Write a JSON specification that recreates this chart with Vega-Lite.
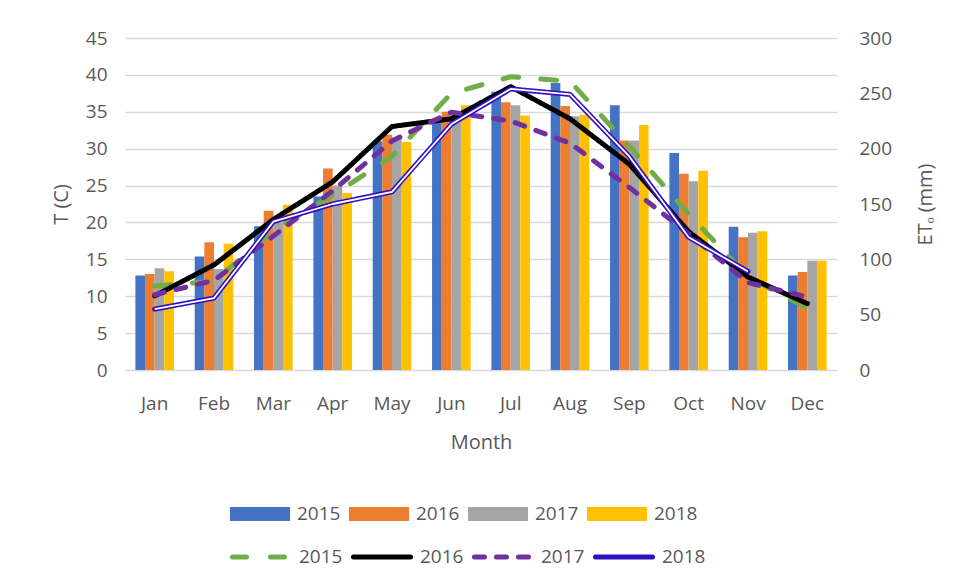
{
  "$schema": "https://vega.github.io/schema/vega-lite/v6.json",
  "width": 712,
  "height": 332,
  "autosize": "none",
  "padding": {"left": 125, "top": 38, "right": 120, "bottom": 216},
  "background": "white",
  "config": {
    "font": "Open Sans",
    "view": {"stroke": null},
    "axis": {"labelColor": "#595959", "titleColor": "#595959", "labelFontSize": 19, "titleFontSize": 20, "titleFontWeight": "normal", "domain": false, "ticks": false},
    "legend": {"labelColor": "#595959", "labelFontSize": 19, "labelOffset": 7, "columnPadding": 8, "orient": "none", "direction": "horizontal", "title": null}
  },
  "data": {
    "values": [
      {"Month": "Jan", "Year": "2015", "T": 12.8, "ETo": 76},
      {"Month": "Jan", "Year": "2016", "T": 13.0, "ETo": 67},
      {"Month": "Jan", "Year": "2017", "T": 13.8, "ETo": 68},
      {"Month": "Jan", "Year": "2018", "T": 13.4, "ETo": 55},
      {"Month": "Feb", "Year": "2015", "T": 15.4, "ETo": 80},
      {"Month": "Feb", "Year": "2016", "T": 17.3, "ETo": 95},
      {"Month": "Feb", "Year": "2017", "T": 13.7, "ETo": 81},
      {"Month": "Feb", "Year": "2018", "T": 17.1, "ETo": 65},
      {"Month": "Mar", "Year": "2015", "T": 19.5, "ETo": 126},
      {"Month": "Mar", "Year": "2016", "T": 21.6, "ETo": 136},
      {"Month": "Mar", "Year": "2017", "T": 20.0, "ETo": 121},
      {"Month": "Mar", "Year": "2018", "T": 22.4, "ETo": 134},
      {"Month": "Apr", "Year": "2015", "T": 23.5, "ETo": 158},
      {"Month": "Apr", "Year": "2016", "T": 27.3, "ETo": 170},
      {"Month": "Apr", "Year": "2017", "T": 25.0, "ETo": 162},
      {"Month": "Apr", "Year": "2018", "T": 24.0, "ETo": 150},
      {"Month": "May", "Year": "2015", "T": 31.0, "ETo": 193},
      {"Month": "May", "Year": "2016", "T": 31.9, "ETo": 220},
      {"Month": "May", "Year": "2017", "T": 31.5, "ETo": 207},
      {"Month": "May", "Year": "2018", "T": 30.9, "ETo": 161},
      {"Month": "Jun", "Year": "2015", "T": 34.0, "ETo": 250},
      {"Month": "Jun", "Year": "2016", "T": 35.0, "ETo": 227},
      {"Month": "Jun", "Year": "2017", "T": 35.0, "ETo": 233},
      {"Month": "Jun", "Year": "2018", "T": 35.9, "ETo": 222},
      {"Month": "Jul", "Year": "2015", "T": 37.7, "ETo": 265},
      {"Month": "Jul", "Year": "2016", "T": 36.3, "ETo": 256},
      {"Month": "Jul", "Year": "2017", "T": 35.9, "ETo": 225},
      {"Month": "Jul", "Year": "2018", "T": 34.5, "ETo": 254},
      {"Month": "Aug", "Year": "2015", "T": 38.9, "ETo": 261},
      {"Month": "Aug", "Year": "2016", "T": 35.8, "ETo": 227},
      {"Month": "Aug", "Year": "2017", "T": 34.4, "ETo": 205},
      {"Month": "Aug", "Year": "2018", "T": 34.6, "ETo": 249},
      {"Month": "Sep", "Year": "2015", "T": 35.9, "ETo": 202},
      {"Month": "Sep", "Year": "2016", "T": 31.1, "ETo": 186},
      {"Month": "Sep", "Year": "2017", "T": 31.1, "ETo": 165},
      {"Month": "Sep", "Year": "2018", "T": 33.2, "ETo": 193},
      {"Month": "Oct", "Year": "2015", "T": 29.4, "ETo": 141},
      {"Month": "Oct", "Year": "2016", "T": 26.6, "ETo": 125},
      {"Month": "Oct", "Year": "2017", "T": 25.6, "ETo": 123},
      {"Month": "Oct", "Year": "2018", "T": 27.0, "ETo": 120},
      {"Month": "Nov", "Year": "2015", "T": 19.4, "ETo": 84},
      {"Month": "Nov", "Year": "2016", "T": 18.0, "ETo": 84},
      {"Month": "Nov", "Year": "2017", "T": 18.6, "ETo": 79},
      {"Month": "Nov", "Year": "2018", "T": 18.8, "ETo": 89},
      {"Month": "Dec", "Year": "2015", "T": 12.8, "ETo": 56},
      {"Month": "Dec", "Year": "2016", "T": 13.3, "ETo": 60},
      {"Month": "Dec", "Year": "2017", "T": 14.8, "ETo": 66},
      {"Month": "Dec", "Year": "2018", "T": 14.8, "ETo": null}
    ]
  },
  "layer": [
    {
      "mark": {"type": "bar"},
      "encoding": {
        "x": {"field": "Month", "type": "ordinal", "sort": ["Jan", "Feb", "Mar", "Apr", "May", "Jun", "Jul", "Aug", "Sep", "Oct", "Nov", "Dec"], "scale": {"paddingInner": 0.35, "paddingOuter": 0.175}, "axis": {"title": "Month", "labelAngle": 0, "labelPadding": 24, "titlePadding": 19, "grid": false}},
        "xOffset": {"field": "Year", "type": "nominal", "scale": {"paddingInner": 0, "paddingOuter": 0}},
        "y": {"field": "T", "type": "quantitative", "scale": {"domain": [0, 45], "nice": false}, "axis": {"title": "T (C)", "values": [0, 5, 10, 15, 20, 25, 30, 35, 40, 45], "grid": true, "gridColor": "#d9d9d9", "gridWidth": 1.3, "labelPadding": 18, "titlePadding": 14}},
        "fill": {"field": "Year", "type": "nominal", "scale": {"range": ["#4472C4", "#ED7D31", "#A5A5A5", "#FFC000"]}, "legend": {"legendX": 105, "legendY": 446, "symbolType": "M-1,-0.23H1V0.23H-1Z", "symbolSize": 3600, "symbolStrokeWidth": 0, "symbolOpacity": 1}}
      }
    },
    {
      "mark": {"type": "line", "strokeWidth": 5, "strokeCap": "round", "strokeJoin": "round"},
      "encoding": {
        "x": {"field": "Month", "type": "ordinal", "sort": ["Jan", "Feb", "Mar", "Apr", "May", "Jun", "Jul", "Aug", "Sep", "Oct", "Nov", "Dec"]},
        "y": {"field": "ETo", "type": "quantitative", "scale": {"domain": [0, 300], "nice": false}, "axis": {"orient": "right", "title": "ETₒ (mm)", "titleAngle": 270, "values": [0, 50, 100, 150, 200, 250, 300], "grid": false, "labelPadding": 22, "titlePadding": 44}},
        "stroke": {"field": "Year", "type": "nominal", "scale": {"range": ["#70AD47", "#000000", "#7030A0", "#3010C0"]}, "legend": {"legendX": 105, "legendY": 488, "columnPadding": 0, "symbolType": "stroke", "symbolSize": 3249, "symbolStrokeWidth": 5, "encode": {"symbols": {"update": {"strokeCap": {"value": "round"}, "strokeDash": {"signal": "datum.value === '2015' ? [14, 24] : datum.value === '2017' ? [10, 12] : [1, 0]"}}}}}},
        "strokeDash": {"field": "Year", "type": "nominal", "scale": {"range": [[16, 22], [1, 0], [10, 12], [1, 0]]}, "legend": null}
      }
    },
    {
      "mark": {"type": "line", "strokeWidth": 1.8, "strokeJoin": "round"},
      "encoding": {
        "x": {"field": "Month", "type": "ordinal", "sort": ["Jan", "Feb", "Mar", "Apr", "May", "Jun", "Jul", "Aug", "Sep", "Oct", "Nov", "Dec"]},
        "y": {"field": "ETo", "type": "quantitative", "scale": {"domain": [0, 300], "nice": false}, "axis": null},
        "stroke": {"field": "Year", "type": "nominal", "scale": {"range": ["rgba(0,0,0,0)", "rgba(0,0,0,0)", "rgba(0,0,0,0)", "#ffffff"]}, "legend": {"legendX": 105, "legendY": 488, "columnPadding": 0, "symbolType": "stroke", "symbolSize": 3249, "symbolStrokeWidth": 5, "labelColor": "rgba(0,0,0,0)", "zindex": 2, "encode": {"symbols": {"update": {"strokeCap": {"value": "round"}, "strokeWidth": {"signal": "datum.value === '2018' ? 1.8 : 5"}}}}}}
      }
    }
  ],
  "resolve": {"scale": {"y": "independent", "stroke": "independent"}}
}
